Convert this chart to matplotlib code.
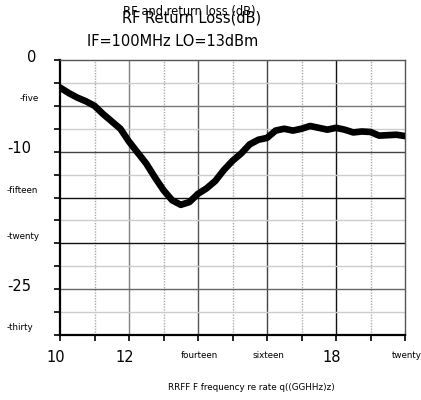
import matplotlib
matplotlib.use("Agg")
import matplotlib.pyplot as plt
import matplotlib.transforms as mtransforms

freq_ghz = [10, 10.25, 10.5, 10.75, 11, 11.25, 11.5, 11.75, 12, 12.25, 12.5, 12.75,
            13, 13.25, 13.5, 13.75, 14, 14.25, 14.5, 14.75, 15, 15.25, 15.5, 15.75,
            16, 16.25, 16.5, 16.75, 17, 17.25, 17.5, 17.75, 18, 18.25, 18.5, 18.75,
            19, 19.25, 19.5, 19.75, 20]
return_loss_db = [-3.0, -3.6, -4.1, -4.5, -5.0, -5.9, -6.7, -7.5, -8.9, -10.1, -11.3, -12.8,
                  -14.2, -15.3, -15.8, -15.5, -14.6, -14.0, -13.2, -12.0, -11.0, -10.2, -9.2, -8.7,
                  -8.5, -7.7, -7.5, -7.7, -7.5, -7.2, -7.4, -7.6, -7.4, -7.6, -7.9, -7.8,
                  -7.85, -8.25, -8.2, -8.15, -8.3]

x_major = [10, 12, 14, 16, 18, 20]
x_labels = ["10", "12", "fourteen", "sixteen", "18", "twenty"]
x_label_big = [True, True, False, False, True, False]
x_minor = [11, 13, 15, 17, 19]
y_major = [0, -5, -10, -15, -20, -25, -30]
y_labels = ["0", "-five", "-10", "-fifteen", "-twenty", "-25", "-thirty"]
y_label_big = [True, False, True, False, False, True, False]
y_minor = [-2.5, -7.5, -12.5, -17.5, -22.5, -27.5]

title_main = "RF Return Loss(dB)"
title_ghost = "RF and return loss (dB)"
subtitle = "IF=100MHz LO=13dBm"
xlabel = "RRFF F frequency re rate q((GGHHz)z)"

fig = plt.figure(figsize=(4.21, 4.0), dpi=100)
ax = fig.add_axes([60/421, 1-335/400, 345/421, 275/400])
ax.set_xlim(10, 20)
ax.set_ylim(-30, 0)

ax.set_xticks(x_major)
ax.set_xticks(x_minor, minor=True)
ax.set_yticks(y_major)
ax.set_yticks(y_minor, minor=True)
ax.set_xticklabels([])
ax.set_yticklabels([])
ax.tick_params(which="both", direction="out", length=4, width=1.2, color="black")

# grid lines
xmaj_colors = {12: "#808080", 14: "#555555", 16: "#444444", 18: "#111111"}
for v, c in xmaj_colors.items():
    ax.axvline(v, color=c, lw=1.0, zorder=1)
for v in x_minor:
    ax.axvline(v, color="#aaaaaa", lw=1.0, ls=(0, (1, 1)), zorder=1)
ymaj_colors = {-5: "#777777", -10: "#444444", -15: "#111111", -20: "#111111", -25: "#666666"}
for v, c in ymaj_colors.items():
    ax.axhline(v, color=c, lw=1.0, zorder=1)
for v in y_minor:
    ax.axhline(v, color="#cccccc", lw=1.0, zorder=1)

ax.spines["left"].set_linewidth(1.6)
ax.spines["bottom"].set_linewidth(1.6)
ax.spines["top"].set_color("#555555")
ax.spines["right"].set_color("#555555")
ax.spines["top"].set_linewidth(1.0)
ax.spines["right"].set_linewidth(1.0)

ax.plot(freq_ghz, return_loss_db, color="black", lw=4.8, solid_capstyle="round",
        solid_joinstyle="round", zorder=3)

# tick labels
xt = ax.get_xaxis_transform()
for v, lab, big in zip(x_major, x_labels, x_label_big):
    if big:
        off = mtransforms.offset_copy(xt, fig=fig, x=-4.5, y=-23, units="dots")
        ax.text(v, 0, lab, transform=off, ha="center", va="center", fontsize=10.5, clip_on=False)
    else:
        off = mtransforms.offset_copy(xt, fig=fig, x=1.5, y=-20, units="dots")
        ax.text(v, 0, lab, transform=off, ha="center", va="center", fontsize=6.3, clip_on=False)

yt = ax.get_yaxis_transform()
y_left_px = {"0": -33, "-five": -40}
for v, lab, big in zip(y_major, y_labels, y_label_big):
    dx = y_left_px.get(lab, -53)
    if big:
        off = mtransforms.offset_copy(yt, fig=fig, x=dx, y=3, units="dots")
        ax.text(0, v, lab, transform=off, ha="left", va="center", fontsize=10.5, clip_on=False)
    else:
        off = mtransforms.offset_copy(yt, fig=fig, x=dx, y=7, units="dots")
        ax.text(0, v, lab, transform=off, ha="left", va="center", fontsize=6.3, clip_on=False)

fig.text(122/421, 1-18/400, title_main, ha="left", va="center", fontsize=10.5)
fig.text(123/421, 1-12/400, title_ghost, ha="left", va="center", fontsize=8.3)
fig.text(87/421, 1-42/400, subtitle, ha="left", va="center", fontsize=10.5)
fig.text(168/421, 1-387/400, xlabel, ha="left", va="center", fontsize=6.3)

fig.savefig("out.png", dpi=100)
